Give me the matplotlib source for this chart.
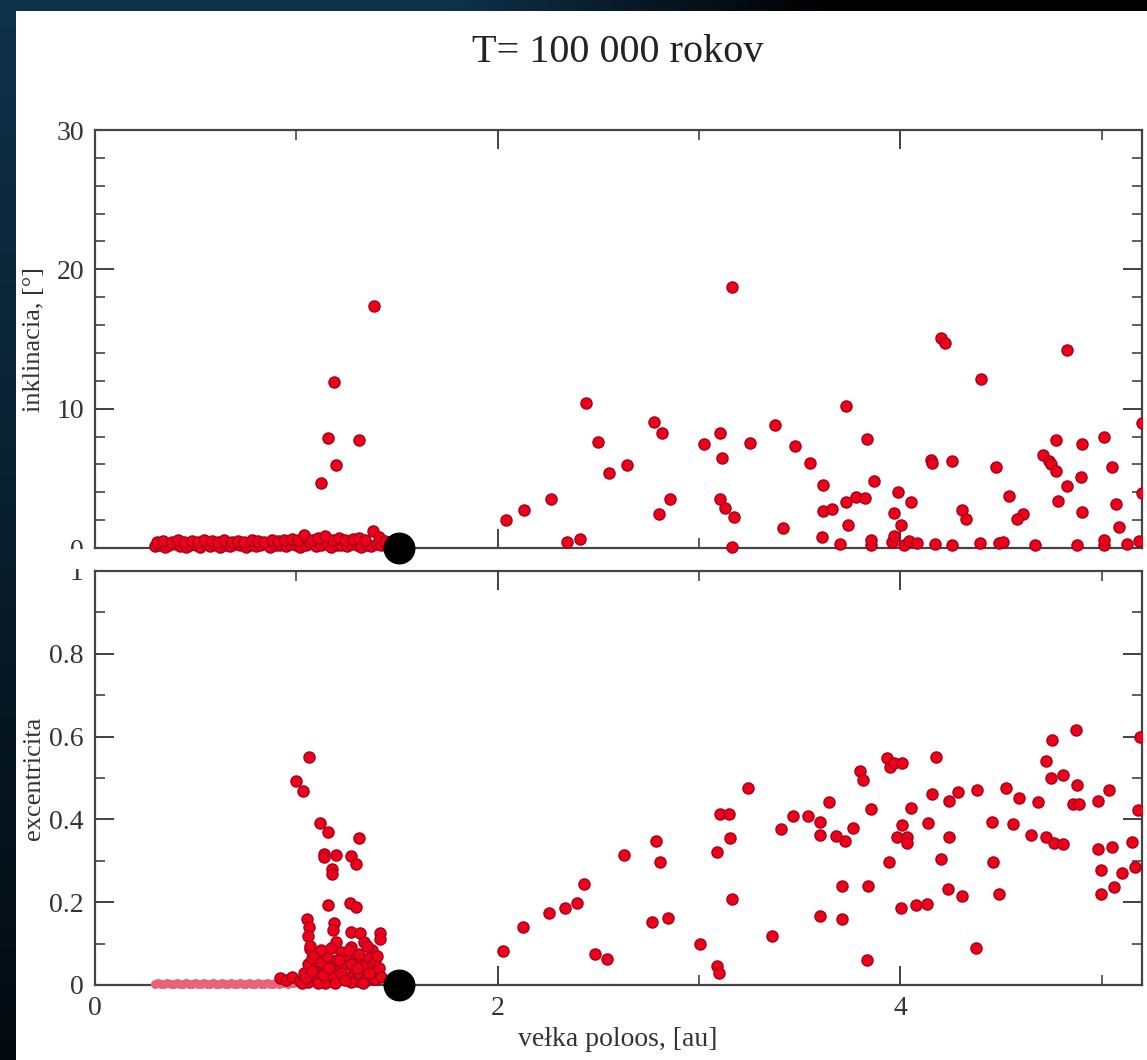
import numpy as np
import matplotlib
matplotlib.use("Agg")
import matplotlib.pyplot as plt
from matplotlib.ticker import MultipleLocator
from matplotlib.patches import Rectangle
from matplotlib.transforms import Bbox, TransformedBbox

plt.rcParams['font.family'] = ['Liberation Serif', 'DejaVu Serif']

# ---------------- data ----------------
title_text = "T= 100 000 rokov"
xlabel_text = "vełka poloos, [au]"
ylabel_top = "inklinacia, [°]"
ylabel_bot = "excentricita"

# planet marker (semi-major axis)
planet_a = 1.51

# inclination panel: near-plane inner population
a_inc_inner = [0.30, 0.32, 0.35, 0.37, 0.40, 0.42, 0.45, 0.47, 0.50, 0.52, 0.55, 0.57,
               0.60, 0.62, 0.65, 0.67, 0.70, 0.72, 0.75, 0.77, 0.80, 0.82, 0.85, 0.87,
               0.90, 0.92, 0.95, 0.97, 1.00, 1.02, 1.05, 1.07, 1.10, 1.12, 1.15, 1.17,
               1.20, 1.22, 1.25, 1.27, 1.30, 1.32, 1.35, 1.37, 1.40, 1.42, 1.45,
               0.31, 0.34, 0.38, 0.41, 0.44, 0.48, 0.51, 0.54, 0.58, 0.61, 0.64, 0.68,
               0.71, 0.74, 0.78, 0.81, 0.84, 0.88, 0.91, 0.94, 0.98, 1.01, 1.04, 1.08,
               1.11, 1.14, 1.18, 1.21, 1.24, 1.28, 1.31, 1.34, 1.38, 1.41, 1.44]
inc_inner = [0.15, 0.25, 0.10, 0.20, 0.30, 0.15, 0.05, 0.20, 0.25, 0.10, 0.30, 0.15,
             0.20, 0.10, 0.25, 0.15, 0.30, 0.20, 0.10, 0.25, 0.15, 0.20, 0.30, 0.10,
             0.20, 0.25, 0.15, 0.30, 0.20, 0.10, 0.25, 0.35, 0.15, 0.20, 0.30, 0.10,
             0.25, 0.20, 0.15, 0.30, 0.20, 0.10, 0.25, 0.15, 0.30, 0.20, 0.15,
             0.45, 0.50, 0.40, 0.55, 0.45, 0.50, 0.40, 0.55, 0.50, 0.45, 0.55, 0.40,
             0.50, 0.45, 0.55, 0.50, 0.45, 0.60, 0.50, 0.55, 0.65, 0.60, 0.90, 0.55,
             0.70, 0.85, 0.60, 0.75, 0.55, 0.65, 0.70, 0.60, 1.20, 0.80, 0.50]

# inclination panel: scattered particles
a_inc = [1.387, 1.188, 1.158, 1.312, 1.198, 1.123,
         3.164, 2.440, 2.778, 2.816, 2.498, 3.023, 3.106, 3.255, 3.375, 3.479, 3.114,
         2.642, 2.555, 3.550, 2.266, 2.132, 2.041, 2.854, 2.800, 3.106, 3.128, 3.176,
         3.418, 3.164, 2.344, 2.410,
         4.200, 4.221, 4.826, 4.399, 3.731, 5.200, 3.835, 4.775, 5.011, 4.900, 4.150,
         4.155, 4.254, 4.477, 4.708, 4.738, 4.747, 4.771, 4.896, 5.053, 3.618, 3.868,
         3.988, 4.827, 4.541, 3.779, 3.822, 3.728, 4.051, 5.199, 4.785, 5.070, 3.618,
         3.660, 3.966, 3.742, 4.003, 4.304, 4.328, 4.609, 4.580, 4.904, 5.086, 3.613,
         3.698, 3.852, 3.852, 3.960, 3.968, 4.017, 4.042, 4.084, 4.170, 4.258, 4.394,
         4.490, 4.510, 4.669, 4.879, 5.011, 5.011, 5.127, 5.185]
inc = [17.37, 11.90, 7.90, 7.75, 5.96, 4.67,
       18.76, 10.43, 9.02, 8.23, 7.59, 7.44, 8.23, 7.51, 8.80, 7.35, 6.48,
       5.93, 5.36, 6.08, 3.52, 2.73, 2.03, 3.52, 2.44, 3.49, 2.85, 2.25,
       1.46, 0.10, 0.45, 0.62,
       15.10, 14.70, 14.20, 12.10, 10.20, 8.95, 7.82, 7.75, 8.00, 7.44, 6.30,
       6.08, 6.25, 5.79, 6.68, 6.25, 6.03, 5.53, 5.10, 5.79, 4.55, 4.81,
       4.00, 4.45, 3.76, 3.64, 3.59, 3.28, 3.28, 3.93, 3.37, 3.18, 2.66,
       2.78, 2.49, 1.65, 1.65, 2.73, 2.06, 2.42, 2.06, 2.56, 1.51, 0.81,
       0.30, 0.25, 0.55, 0.40, 0.85, 0.20, 0.50, 0.35, 0.30, 0.20, 0.35,
       0.35, 0.40, 0.25, 0.25, 0.20, 0.55, 0.30, 0.50]

# eccentricity panel: circular inner orbits
a_ecc_flat = [0.300, 0.315, 0.330, 0.345, 0.360, 0.375, 0.390, 0.405, 0.420, 0.435,
              0.450, 0.465, 0.480, 0.495, 0.510, 0.525, 0.540, 0.555, 0.570, 0.585,
              0.600, 0.615, 0.630, 0.645, 0.660, 0.675, 0.690, 0.705, 0.720, 0.735,
              0.750, 0.765, 0.780, 0.795, 0.810, 0.825, 0.840, 0.855, 0.870, 0.885,
              0.900, 0.915, 0.930, 0.945, 0.960, 0.975, 0.990]
ecc_flat = [0.002, 0.004, 0.003, 0.002, 0.004, 0.003, 0.002, 0.004, 0.003, 0.002,
            0.004, 0.003, 0.002, 0.004, 0.003, 0.002, 0.004, 0.003, 0.002, 0.004,
            0.003, 0.002, 0.004, 0.003, 0.002, 0.004, 0.003, 0.002, 0.004, 0.003,
            0.002, 0.004, 0.003, 0.002, 0.004, 0.003, 0.002, 0.004, 0.003, 0.002,
            0.004, 0.003, 0.005, 0.004, 0.003, 0.005, 0.004]

# eccentricity panel: particles
a_ecc = [1.064, 0.999, 1.035, 1.118, 1.156, 1.309, 1.138, 1.138, 1.196, 1.272, 1.296,
         1.178, 1.178, 1.155, 1.267, 1.297, 1.055, 1.065, 1.060, 1.069, 1.185, 1.181,
         1.198, 1.272, 1.314, 1.416, 1.416, 1.334, 1.375, 1.384, 1.272, 1.280,
         0.92, 0.95, 0.98,
         1.02, 1.04, 1.06, 1.07, 1.08, 1.10, 1.11, 1.12, 1.13, 1.15, 1.16, 1.17, 1.19,
         1.20, 1.21, 1.23, 1.24, 1.25, 1.26, 1.28, 1.29, 1.30, 1.31, 1.32, 1.33, 1.35,
         1.36, 1.37, 1.38, 1.40, 1.41, 1.06, 1.09, 1.14, 1.18, 1.22, 1.27, 1.34, 1.39,
         1.03, 1.05, 1.08, 1.11, 1.13, 1.16, 1.19, 1.22, 1.24, 1.27, 1.30, 1.33, 1.36,
         1.39, 1.42, 1.07, 1.12, 1.17, 1.21, 1.26, 1.31, 1.35, 1.40,
         3.242, 3.106, 3.148, 3.466, 3.542, 3.405, 3.153, 3.090, 2.788, 2.805, 2.629,
         2.430, 2.394, 2.333, 2.253, 2.124, 2.028, 2.485, 2.543, 2.767, 2.845, 3.007,
         3.164, 3.090, 3.101, 3.360,
         4.871, 4.754, 5.189, 4.725, 4.746, 4.808, 3.935, 3.948, 3.968, 4.006, 4.178,
         3.799, 3.815, 3.645, 3.852, 3.603, 3.603, 3.678, 3.724, 3.764, 4.054, 4.009,
         3.984, 4.031, 4.034, 4.138, 4.157, 4.288, 4.243, 4.382, 4.524, 4.591, 4.685,
         4.879, 4.859, 4.887, 4.983, 5.036, 5.180, 4.239, 4.457, 4.561, 4.647, 4.722,
         4.763, 4.810, 4.983, 5.050, 5.148, 3.945, 4.203, 4.461, 4.995, 5.099, 5.166,
         3.711, 3.840, 4.236, 4.307, 4.490, 4.995, 5.061, 4.001, 4.079, 4.130, 3.600,
         3.708, 4.374, 3.835]
ecc = [0.550, 0.492, 0.468, 0.391, 0.369, 0.355, 0.317, 0.308, 0.315, 0.311, 0.293,
       0.281, 0.269, 0.193, 0.197, 0.189, 0.159, 0.140, 0.118, 0.088, 0.150, 0.133,
       0.104, 0.128, 0.125, 0.126, 0.110, 0.104, 0.084, 0.068, 0.092, 0.076,
       0.018, 0.012, 0.020,
       0.010, 0.030, 0.050, 0.020, 0.065, 0.040, 0.015, 0.055, 0.030, 0.070, 0.010, 0.045, 0.025,
       0.060, 0.035, 0.015, 0.050, 0.070, 0.020, 0.040, 0.060, 0.010, 0.030, 0.055, 0.045, 0.020,
       0.065, 0.035, 0.050, 0.025, 0.040, 0.008, 0.075, 0.005, 0.020, 0.080, 0.008, 0.010, 0.015,
       0.004, 0.018, 0.035, 0.006, 0.025, 0.040, 0.005, 0.028, 0.012, 0.050, 0.040, 0.006, 0.030,
       0.060, 0.020, 0.095, 0.085, 0.090, 0.060, 0.085, 0.075, 0.095, 0.070,
       0.476, 0.412, 0.412, 0.408, 0.408, 0.378, 0.354, 0.322, 0.349, 0.298, 0.315,
       0.243, 0.199, 0.186, 0.173, 0.140, 0.083, 0.076, 0.062, 0.153, 0.163, 0.098,
       0.207, 0.047, 0.028, 0.119,
       0.616, 0.592, 0.600, 0.540, 0.500, 0.508, 0.548, 0.526, 0.536, 0.537, 0.551,
       0.516, 0.494, 0.443, 0.424, 0.394, 0.362, 0.360, 0.348, 0.379, 0.428, 0.387,
       0.357, 0.357, 0.343, 0.391, 0.462, 0.467, 0.445, 0.472, 0.475, 0.451, 0.442,
       0.484, 0.436, 0.436, 0.444, 0.472, 0.423, 0.357, 0.394, 0.390, 0.362, 0.357,
       0.343, 0.340, 0.329, 0.333, 0.345, 0.298, 0.304, 0.298, 0.277, 0.271, 0.284,
       0.239, 0.239, 0.231, 0.215, 0.221, 0.221, 0.237, 0.186, 0.193, 0.196, 0.167,
       0.159, 0.090, 0.060]

# ---------------- figure ----------------
W, H = 1147, 1060
fig = plt.figure(figsize=(W / 100, H / 100), dpi=100)

# dark backdrop with white panel
yy, xx = np.mgrid[0:H, 0:W]
fade = np.clip(1 - np.maximum(xx - 450, 0) / 380.0, 0, 1) * (1 - 0.8 * yy / H)
base = np.array([14, 50, 74]) / 255.0
img = fade[..., None] * base[None, None, :]
img[(xx >= 16) & (yy >= 11)] = 1.0
bg = fig.add_axes([0, 0, 1, 1], zorder=-10)
bg.imshow(img, aspect='auto', interpolation='bilinear')
bg.axis('off')


def px_box(x0, y0, x1, y1):
    return [x0 / W, 1 - y1 / H, (x1 - x0) / W, (y1 - y0) / H]


ax1 = fig.add_axes(px_box(95, 130, 1142, 548))
ax2 = fig.add_axes(px_box(95, 571, 1142, 985))

dot = dict(marker='o', linestyle='none', markersize=8, zorder=3,
           markerfacecolor='#ee0018', markeredgecolor='#a8001c', markeredgewidth=1.0)


def clip_low(line, ax):
    # let markers sitting on the lower spine spill below it, clip at the right spine
    line.set_clip_box(TransformedBbox(Bbox([[-0.05, -0.05], [1.0, 1.0]]), ax.transAxes))


for ln in ax1.plot(a_inc_inner, inc_inner, **dot):
    clip_low(ln, ax1)
for ln in ax1.plot(a_inc, inc, **dot):
    clip_low(ln, ax1)
ax1.plot([planet_a], [0.0], marker='o', markersize=22, color='black',
         linestyle='none', clip_on=False, zorder=5)

for ln in ax2.plot(a_ecc_flat, ecc_flat, marker='o', linestyle='none', markersize=6.5,
                   markerfacecolor='#ea6478', markeredgecolor='none', zorder=3):
    clip_low(ln, ax2)
for ln in ax2.plot(a_ecc, ecc, **dot):
    clip_low(ln, ax2)
ax2.plot([planet_a], [0.0], marker='o', markersize=22, color='black',
         linestyle='none', clip_on=False, zorder=5)

for ax in (ax1, ax2):
    ax.set_xlim(0, 5.2)
    ax.xaxis.set_major_locator(MultipleLocator(2))
    ax.xaxis.set_minor_locator(MultipleLocator(1))
    ax.tick_params(which='both', direction='in', top=True, right=True,
                   labelsize=20, colors='#333333', pad=8)
    ax.tick_params(which='major', length=14, width=1.3)
    ax.tick_params(which='minor', length=7, width=1.1)
    for s in ax.spines.values():
        s.set_color('#444444')
        s.set_linewidth(1.6)

ax1.set_ylim(0, 30)
ax1.yaxis.set_major_locator(MultipleLocator(10))
ax1.yaxis.set_minor_locator(MultipleLocator(2))
ax1.tick_params(labelbottom=False)

ax2.set_ylim(0, 1)
ax2.set_yticks([0, 0.2, 0.4, 0.6, 0.8, 1.0])
ax2.set_yticklabels(['0', '0.2', '0.4', '0.6', '0.8', '1'])
ax2.yaxis.set_minor_locator(MultipleLocator(0.1))
ax2.set_xticks([0, 2, 4])
ax2.set_xticklabels(['0', '2', '4'])

ax1.set_ylabel(ylabel_top, fontsize=19, color='#333333')
ax2.set_ylabel(ylabel_bot, fontsize=19, color='#333333')
ax1.yaxis.set_label_coords(-0.048, 0.5)
ax2.yaxis.set_label_coords(-0.048, 0.5)

# the strip between the panels hides the upper part of the "1" label
fig.add_artist(Rectangle((40 / W, 1 - 569 / H), 54 / W, 20 / H,
                         transform=fig.transFigure, facecolor='white',
                         edgecolor='none', zorder=3))

fig.text(618 / W, 1 - 52 / H, title_text, fontsize=29, ha='center', va='center',
         color='#222222')
fig.text(618 / W, 1 - 1040 / H, xlabel_text, fontsize=20, ha='center', va='center',
         color='#333333')

fig.savefig('out.png', dpi=100)
